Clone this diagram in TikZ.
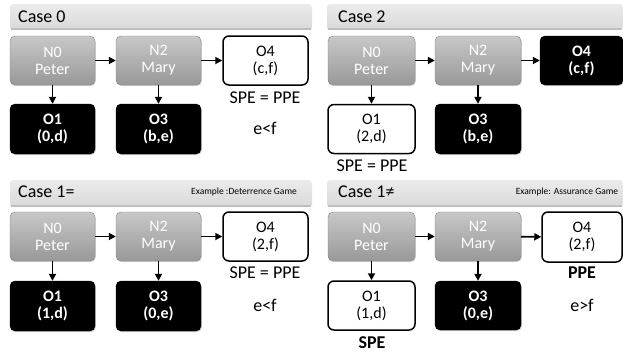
\documentclass[tikz,border=0pt]{standalone}
\usepackage{fontspec}
\setmainfont{Carlito}
\usetikzlibrary{arrows.meta,shadows}
\definecolor{gtop}{HTML}{C8C8C8}
\definecolor{gbot}{HTML}{989898}
\definecolor{htop}{HTML}{EBEBEB}
\definecolor{hbot}{HTML}{D9D9D9}
\definecolor{hline}{HTML}{BFBFBF}
\begin{document}
\begin{tikzpicture}[x=1pt,y=-1pt,
  hdr/.style={rounded corners=3pt, top color=htop, bottom color=hbot, inner sep=0pt},
  hdrtxt/.style={anchor=west, font=\fontsize{18}{20}\selectfont, inner sep=0pt},
  exttxt/.style={font=\fontsize{9.5}{11}\selectfont, inner sep=0pt},
  base/.style={rounded corners=5pt, align=center, inner sep=0pt, minimum width=85pt, minimum height=49pt, font=\fontsize{16}{17}\selectfont},
  gnode/.style={base, top color=gtop, bottom color=gbot, draw=gbot!85!black, line width=0.4pt, text=white, drop shadow={shadow xshift=0.8pt, shadow yshift=-1.2pt, opacity=0.35}},
  bnode/.style={base, fill=black, draw=black, text=white, font=\fontsize{16}{17}\selectfont\bfseries, drop shadow={shadow xshift=0.8pt, shadow yshift=-1.2pt, opacity=0.35}},
  wnode/.style={base, fill=white, draw=black, line width=1.5pt, rounded corners=6pt},
  lbl/.style={font=\fontsize{18}{20}\selectfont, inner sep=0pt},
  blbl/.style={font=\fontsize{18}{20}\selectfont\bfseries, inner sep=0pt},
  arr/.style={line width=1.8pt, -{Triangle[length=7pt,width=7pt]}}
]
\useasboundingbox (0,0) rectangle (623,356);

% ---------- Case 0 ----------
\node[hdr, minimum width=302pt, minimum height=26pt] (h0) at (161,17) {};
\draw[hline, line width=2pt] ([xshift=1pt,yshift=1pt]h0.south west) -- ([xshift=-1pt,yshift=1pt]h0.south east);
\node[hdrtxt] (t0) at (18,17) {Case 0};
\node[gnode] (a0) at (52.5,60.5) {N0\\Peter};
\node[gnode] (a2) at (158.5,60.5) {N2\\Mary};
\node[wnode] (a4) at (265.5,60.5) {O4\\(c,f)};
\node[bnode, minimum height=50pt] (a1) at (52.5,129) {O1\\(0,d)};
\node[bnode, minimum height=50pt] (a3) at (158.5,129) {O3\\(b,e)};
\node[lbl] (as) at (265,98) {SPE = PPE};
\node[lbl] (ae) at (265,128) {e<f};
\draw[arr] (a0) -- (a2);
\draw[arr] (a2) -- (a4);
\draw[arr] (a0) -- (a1);
\draw[arr] (a2) -- (a3);

% ---------- Case 2 ----------
\node[hdr, minimum width=296pt, minimum height=26pt] (h2) at (475,17) {};
\draw[hline, line width=2pt] ([xshift=1pt,yshift=1pt]h2.south west) -- ([xshift=-1pt,yshift=1pt]h2.south east);
\node[hdrtxt] (t2) at (338,17) {Case 2};
\node[gnode, minimum width=87pt] (b0) at (371.5,60.5) {N0\\Peter};
\node[gnode, minimum width=86pt] (b2) at (478,60.5) {N2\\Mary};
\node[bnode, minimum width=83pt] (b4) at (581.5,60.5) {O4\\(c,f)};
\node[wnode, minimum width=87pt] (b1) at (371.5,129) {O1\\(2,d)};
\node[bnode, minimum width=86pt, minimum height=50pt] (b3) at (478,129) {O3\\(b,e)};
\node[lbl] (bs) at (372,166) {SPE = PPE};
\draw[arr] (b0) -- (b2);
\draw[arr] (b2) -- (b4);
\draw[arr] (b0) -- (b1);
\draw[arr] (b2) -- (b3);

% ---------- Case 1= ----------
\node[hdr, minimum width=302pt, minimum height=27pt] (h1) at (161,193.5) {};
\draw[hline, line width=2pt] ([xshift=1pt,yshift=1pt]h1.south west) -- ([xshift=-1pt,yshift=1pt]h1.south east);
\node[hdrtxt] (t1) at (18,192) {Case 1=};
\node[exttxt] (x1) at (244,192) {Example :Deterrence Game};
\node[gnode] (c0) at (52.5,236.5) {N0\\Peter};
\node[gnode] (c2) at (158.5,236.5) {N2\\Mary};
\node[wnode] (c4) at (265.5,236.5) {O4\\(2,f)};
\node[bnode, minimum height=50pt] (c1) at (52.5,306) {O1\\(1,d)};
\node[bnode, minimum height=50pt] (c3) at (158.5,306) {O3\\(0,e)};
\node[lbl] (cs) at (265,273) {SPE = PPE};
\node[lbl] (ce) at (265,305) {e<f};
\draw[arr] (c0) -- (c2);
\draw[arr] (c2) -- (c4);
\draw[arr] (c0) -- (c1);
\draw[arr] (c2) -- (c3);

% ---------- Case 1 neq ----------
\node[hdr, minimum width=296pt, minimum height=27pt] (h3) at (475,193.5) {};
\draw[hline, line width=2pt] ([xshift=1pt,yshift=1pt]h3.south west) -- ([xshift=-1pt,yshift=1pt]h3.south east);
\node[hdrtxt] (t3) at (338,192) {Case 1≠};
\node[exttxt] (x3) at (567,192) {Example: Assurance Game};
\node[gnode, minimum width=87pt] (d0) at (371.5,236.5) {N0\\Peter};
\node[gnode, minimum width=86pt] (d2) at (478,236.5) {N2\\Mary};
\node[wnode, minimum width=80pt, minimum height=50pt] (d4) at (582,237) {O4\\(2,f)};
\node[wnode, minimum width=87pt] (d1) at (371.5,305.5) {O1\\(1,d)};
\node[bnode, minimum width=86pt] (d3) at (478,305.5) {O3\\(0,e)};
\node[blbl] (ds) at (372,343) {SPE};
\node[blbl] (dp) at (582,273) {PPE};
\node[lbl] (de) at (582,305) {e>f};
\draw[arr] (d0) -- (d2);
\draw[arr] (d2) -- (d4);
\draw[arr] (d0) -- (d1);
\draw[arr] (d2) -- (d3);
\end{tikzpicture}
\end{document}
